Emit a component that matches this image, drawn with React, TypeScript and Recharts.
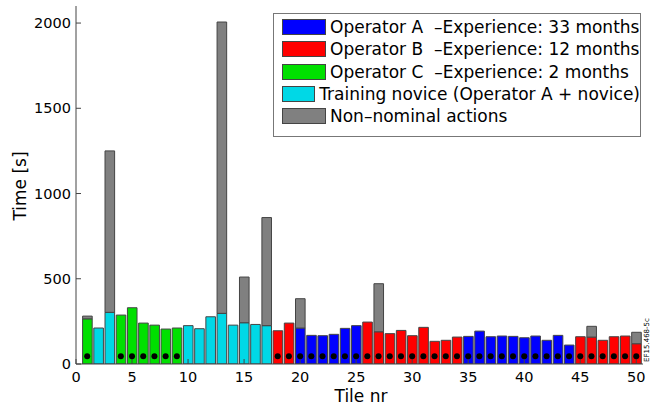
import { Bar, ComposedChart, Scatter, XAxis, YAxis } from "recharts";

const tiles = [
  1, 2, 3, 4, 5, 6, 7, 8, 9, 10, 11, 12, 13, 14, 15, 16, 17, 18, 19, 20, 21, 22, 23, 24, 25,
  26, 27, 28, 29, 30, 31, 32, 33, 34, 35, 36, 37, 38, 39, 40, 41, 42, 43, 44, 45, 46, 47, 48, 49, 50,
];

// A / B / C = operators, N = training novice
const operators = [
  "C", "N", "N", "C", "C", "C", "C", "C", "C", "N", "N", "N", "N", "N", "N", "N", "N",
  "B", "B", "A", "A", "A", "A", "A", "A", "B", "B", "B", "B", "B", "B", "B", "B", "B",
  "A", "A", "A", "A", "A", "A", "A", "A", "A", "A", "B", "B", "B", "B", "B", "B",
];

const nominalTimes = [
  265, 211, 303, 287, 330, 240, 228, 205, 211, 225, 207, 277, 297, 228, 242, 232, 225,
  195, 240, 211, 168, 166, 174, 209, 225, 246, 189, 178, 197, 166, 215, 133, 139, 158,
  162, 193, 160, 164, 162, 154, 164, 139, 168, 111, 160, 158, 139, 160, 164, 119,
];

const nonNominalTimes = [
  16, 0, 947, 0, 0, 0, 0, 0, 0, 0, 0, 0, 1709, 0, 268, 0, 634,
  0, 0, 172, 0, 0, 0, 0, 0, 0, 282, 0, 0, 0, 0, 0, 0, 0,
  0, 0, 0, 0, 0, 0, 0, 0, 0, 0, 0, 63, 0, 0, 0, 67,
];

const markedTiles = [
  1, 4, 5, 6, 7, 8, 9, 18, 19, 20, 21, 22, 23, 24, 25, 26, 27, 28, 29, 30, 31, 32, 33, 34,
  35, 36, 37, 38, 39, 40, 41, 42, 43, 44, 45, 46, 47, 48, 49, 50,
];
const markLevel = 45;

const xTicks = [0, 5, 10, 15, 20, 25, 30, 35, 40, 45, 50];
const yTicks = [0, 500, 1000, 1500, 2000];

const COLORS: Record<string, string> = {
  A: "#0000ff",
  B: "#ff0000",
  C: "#00e000",
  N: "#00d8e6",
  X: "#808080",
};

const legendItems = [
  { key: "A", label: "Operator A  –Experience: 33 months" },
  { key: "B", label: "Operator B  –Experience: 12 months" },
  { key: "C", label: "Operator C  –Experience: 2 months" },
  { key: "N", label: "Training novice (Operator A + novice)" },
  { key: "X", label: "Non–nominal actions" },
];

const rows = tiles.map((tile, i) => ({
  tile,
  A: operators[i] === "A" ? nominalTimes[i] : 0,
  B: operators[i] === "B" ? nominalTimes[i] : 0,
  C: operators[i] === "C" ? nominalTimes[i] : 0,
  N: operators[i] === "N" ? nominalTimes[i] : 0,
  X: nonNominalTimes[i],
}));

const marks = markedTiles.map((tile) => ({ tile, mark: markLevel }));

const FONT = "'DejaVu Sans', Verdana, sans-serif";
const tick = { fill: "#000", fontSize: 14.5, fontFamily: FONT };
const edge = "#444";

const Dot = (props: any) => (
  <circle cx={props.cx} cy={props.cy} r={3} fill="#000" />
);

export default function App() {
  return (
    <div
      style={{
        position: "absolute",
        left: 0,
        top: 0,
        width: 650,
        height: 407,
        background: "#fff",
        fontFamily: FONT,
      }}
    >
      <ComposedChart
        width={650}
        height={407}
        data={rows}
        margin={{ top: 6, right: 7, left: 0, bottom: 0 }}
      >
        <XAxis
          dataKey="tile"
          type="number"
          domain={[0, 50.6]}
          ticks={xTicks}
          allowDataOverflow
          height={43}
          tick={tick}
          tickSize={-5}
          tickMargin={13}
          axisLine={{ stroke: edge }}
          tickLine={{ stroke: edge }}
        />
        <YAxis
          type="number"
          domain={[0, 2100]}
          ticks={yTicks}
          allowDataOverflow
          width={76}
          tick={tick}
          tickSize={-5}
          tickMargin={10}
          axisLine={{ stroke: edge }}
          tickLine={{ stroke: edge }}
        />
        {["A", "B", "C", "N", "X"].map((k) => (
          <Bar
            key={k}
            dataKey={k}
            stackId="t"
            barSize={9.6}
            fill={COLORS[k]}
            stroke={edge}
            strokeWidth={1}
            isAnimationActive={false}
          />
        ))}
        <Scatter
          data={marks}
          dataKey="mark"
          shape={Dot}
          isAnimationActive={false}
        />
      </ComposedChart>

      <div
        style={{
          position: "absolute",
          left: 273,
          top: 13,
          width: 368,
          height: 124,
          boxSizing: "border-box",
          border: "1px solid #777",
          background: "#fff",
          paddingTop: 2,
        }}
      >
        {legendItems.map((it) => (
          <div
            key={it.key}
            style={{
              display: "flex",
              alignItems: "center",
              height: 22.3,
              paddingLeft: 8,
            }}
          >
            <div
              style={{
                width: 44,
                height: 16,
                boxSizing: "border-box",
                border: `1px solid ${edge}`,
                background: COLORS[it.key],
                marginRight: 4,
              }}
            />
            <span style={{ fontSize: 17, color: "#000", whiteSpace: "pre" }}>
              {it.label}
            </span>
          </div>
        ))}
      </div>

      <div
        style={{
          position: "absolute",
          left: 20,
          top: 186,
          transform: "translate(-50%, -50%) rotate(-90deg)",
          fontSize: 17,
          whiteSpace: "nowrap",
        }}
      >
        Time [s]
      </div>
      <div
        style={{
          position: "absolute",
          left: 361,
          top: 396,
          transform: "translate(-50%, -50%)",
          fontSize: 17,
          lineHeight: "18px",
          whiteSpace: "nowrap",
        }}
      >
        Tile nr
      </div>
      <div
        style={{
          position: "absolute",
          left: 647,
          top: 340,
          transform: "translate(-50%, -50%) rotate(-90deg)",
          fontSize: 7,
          whiteSpace: "nowrap",
        }}
      >
        EF15.468-5c
      </div>
    </div>
  );
}
